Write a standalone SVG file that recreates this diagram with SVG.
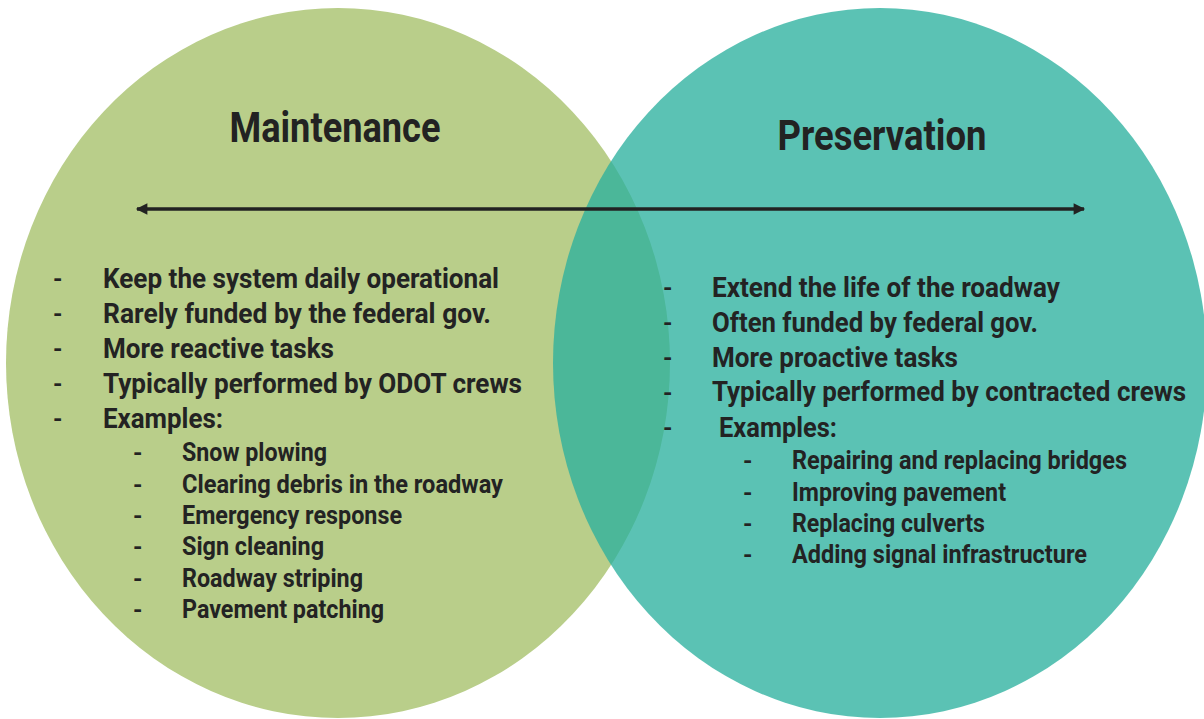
<svg xmlns="http://www.w3.org/2000/svg" width="1204" height="719" viewBox="0 0 1204 719">
  <style>
    .title { font-family: Roboto, "Liberation Sans", sans-serif; font-weight: 700; font-size: 42px; fill: #222222; }
    .item { font-family: Roboto, "Liberation Sans", sans-serif; font-weight: 700; font-size: 28px; fill: #232323; }
    .sub { font-family: Roboto, "Liberation Sans", sans-serif; font-weight: 700; font-size: 25px; fill: #232323; }
    .dash { font-family: Roboto, "Liberation Sans", sans-serif; font-weight: 700; font-size: 24px; fill: #232323; }
  </style>
  <defs>
    <marker id="head" viewBox="0 0 10 10" refX="9" refY="5" markerWidth="3.6" markerHeight="3.2" markerUnits="strokeWidth" orient="auto-start-reverse">
      <path d="M0,0 L10,5 L0,10 Z" fill="#222222"/>
    </marker>
  </defs>
  <rect width="1204" height="719" fill="#ffffff"/>

  <!-- Maintenance circle and its list -->
  <g id="maintenance">
    <ellipse cx="338" cy="363" rx="332" ry="355" fill="#b9ce8a"/>
    <text class="title" x="335" y="142" text-anchor="middle" textLength="211" lengthAdjust="spacingAndGlyphs">Maintenance</text>
    <g>
      <text class="dash" x="53" y="287">-</text>
      <text class="dash" x="53" y="322">-</text>
      <text class="dash" x="53" y="357">-</text>
      <text class="dash" x="53" y="392">-</text>
      <text class="dash" x="53" y="427">-</text>
      <text class="item" x="103" y="288" textLength="396" lengthAdjust="spacingAndGlyphs">Keep the system daily operational</text>
      <text class="item" x="103" y="323" textLength="388" lengthAdjust="spacingAndGlyphs">Rarely funded by the federal gov.</text>
      <text class="item" x="103" y="358" textLength="231" lengthAdjust="spacingAndGlyphs">More reactive tasks</text>
      <text class="item" x="103" y="393" textLength="419" lengthAdjust="spacingAndGlyphs">Typically performed by ODOT crews</text>
      <text class="item" x="103" y="428" textLength="120" lengthAdjust="spacingAndGlyphs">Examples:</text>
    </g>
    <g>
      <text class="dash" x="133" y="461">-</text>
      <text class="dash" x="133" y="493">-</text>
      <text class="dash" x="133" y="524">-</text>
      <text class="dash" x="133" y="555">-</text>
      <text class="dash" x="133" y="587">-</text>
      <text class="dash" x="133" y="618">-</text>
      <text class="sub" x="182" y="461" textLength="145" lengthAdjust="spacingAndGlyphs">Snow plowing</text>
      <text class="sub" x="182" y="493" textLength="321" lengthAdjust="spacingAndGlyphs">Clearing debris in the roadway</text>
      <text class="sub" x="182" y="524" textLength="220" lengthAdjust="spacingAndGlyphs">Emergency response</text>
      <text class="sub" x="182" y="555" textLength="142" lengthAdjust="spacingAndGlyphs">Sign cleaning</text>
      <text class="sub" x="182" y="587" textLength="181" lengthAdjust="spacingAndGlyphs">Roadway striping</text>
      <text class="sub" x="182" y="618" textLength="202" lengthAdjust="spacingAndGlyphs">Pavement patching</text>
    </g>
  </g>

  <!-- Preservation circle (translucent so the overlap darkens) and its list -->
  <g id="preservation">
    <ellipse cx="880" cy="363" rx="327" ry="355" fill="#2ab09e" fill-opacity="0.77"/>
    <text class="title" x="882" y="150" text-anchor="middle" textLength="209" lengthAdjust="spacingAndGlyphs">Preservation</text>
    <g>
      <text class="dash" x="663" y="296">-</text>
      <text class="dash" x="663" y="331">-</text>
      <text class="dash" x="663" y="366">-</text>
      <text class="dash" x="663" y="401">-</text>
      <text class="dash" x="663" y="436">-</text>
      <text class="item" x="712" y="297" textLength="348" lengthAdjust="spacingAndGlyphs">Extend the life of the roadway</text>
      <text class="item" x="712" y="332" textLength="326" lengthAdjust="spacingAndGlyphs">Often funded by federal gov.</text>
      <text class="item" x="712" y="367" textLength="246" lengthAdjust="spacingAndGlyphs">More proactive tasks</text>
      <text class="item" x="712" y="401" textLength="474" lengthAdjust="spacingAndGlyphs">Typically performed by contracted crews</text>
      <text class="item" x="719" y="437" textLength="118" lengthAdjust="spacingAndGlyphs">Examples:</text>
    </g>
    <g>
      <text class="dash" x="743" y="469">-</text>
      <text class="dash" x="743" y="501">-</text>
      <text class="dash" x="743" y="532">-</text>
      <text class="dash" x="743" y="563">-</text>
      <text class="sub" x="792" y="469" textLength="335" lengthAdjust="spacingAndGlyphs">Repairing and replacing bridges</text>
      <text class="sub" x="792" y="501" textLength="214" lengthAdjust="spacingAndGlyphs">Improving pavement</text>
      <text class="sub" x="792" y="532" textLength="193" lengthAdjust="spacingAndGlyphs">Replacing culverts</text>
      <text class="sub" x="792" y="563" textLength="295" lengthAdjust="spacingAndGlyphs">Adding signal infrastructure</text>
    </g>
  </g>

  <!-- Two-headed arrow spanning both circles -->
  <g id="connectors">
    <line x1="137" y1="209" x2="1084" y2="209" stroke="#222222" stroke-width="3.6" marker-start="url(#head)" marker-end="url(#head)"/>
  </g>
</svg>
